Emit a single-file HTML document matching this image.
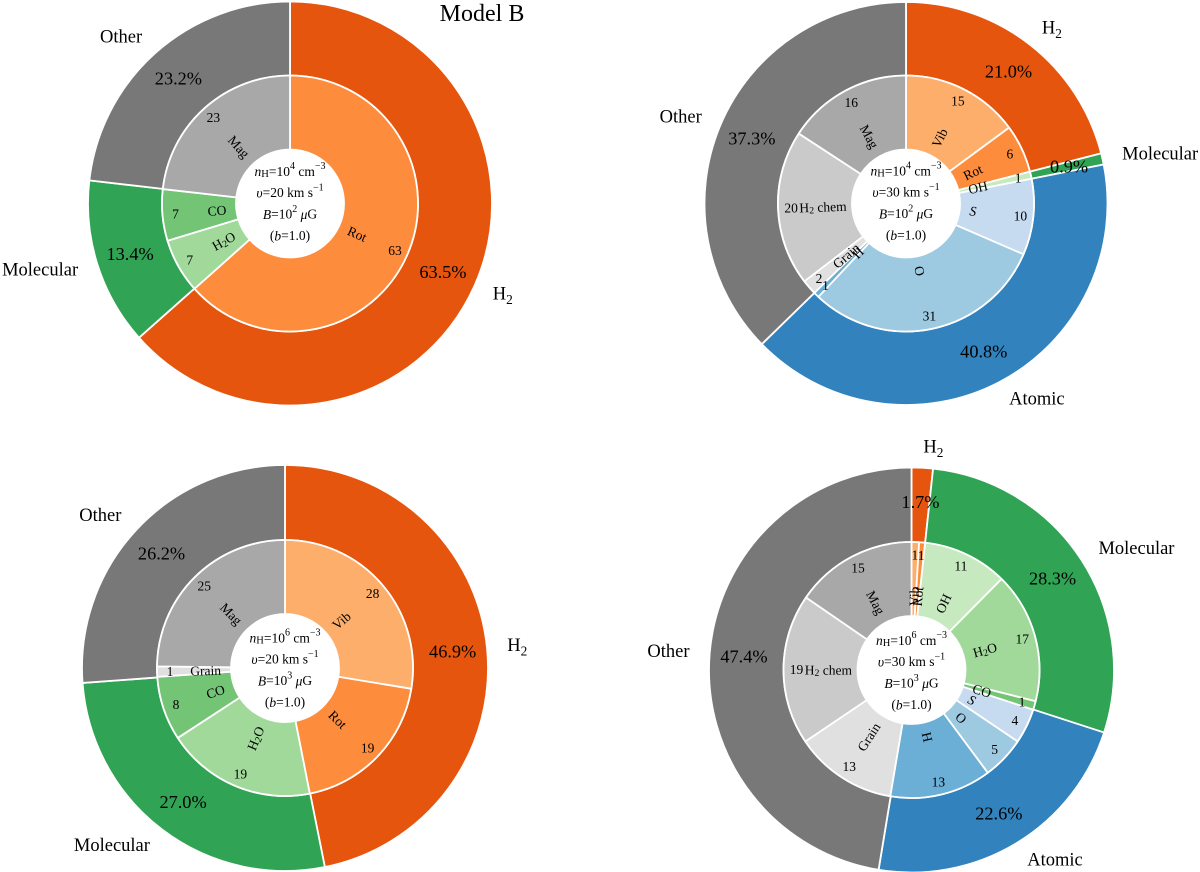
<!DOCTYPE html>
<html>
<head>
<meta charset="utf-8">
<title>Model B cooling breakdown</title>
<style>
  html, body { margin: 0; padding: 0; background: #fff; }
  svg { display: block; font-family: "Liberation Serif", "DejaVu Serif", serif; fill: #000; filter: blur(0.35px); }
  .center-line { font-size: 13.5px; text-anchor: middle; dominant-baseline: central; }
  .it { font-style: italic; }
</style>
</head>
<body>
<svg id="figure" width="1200" height="872" viewBox="0 0 1200 872" xmlns="http://www.w3.org/2000/svg">
  <rect width="1200" height="872" fill="#fff"/>
  <g id="donut-a"></g>
  <g id="donut-b"></g>
  <g id="donut-c"></g>
  <g id="donut-d"></g>

  <text x="482" y="14" font-size="24" text-anchor="middle" dominant-baseline="central">Model B</text>

  <g>
    <text class="center-line" x="290" y="171"><tspan class="it">n</tspan><tspan font-size="10.5" dy="3">H</tspan><tspan dy="-3">=10</tspan><tspan font-size="10" dy="-5">4</tspan><tspan dy="5"> cm</tspan><tspan font-size="10" dy="-5">−3</tspan></text>
    <text class="center-line" x="290" y="192.7"><tspan class="it">υ</tspan>=20 km s<tspan font-size="10" dy="-5">−1</tspan></text>
    <text class="center-line" x="290" y="214"><tspan class="it">B</tspan>=10<tspan font-size="10" dy="-5">2</tspan><tspan dy="5"> </tspan><tspan class="it">μ</tspan>G</text>
    <text class="center-line" x="290" y="235.7">(<tspan class="it">b</tspan>=1.0)</text>
  </g>
  <g>
    <text class="center-line" x="906" y="170.3"><tspan class="it">n</tspan><tspan font-size="10.5" dy="3">H</tspan><tspan dy="-3">=10</tspan><tspan font-size="10" dy="-5">4</tspan><tspan dy="5"> cm</tspan><tspan font-size="10" dy="-5">−3</tspan></text>
    <text class="center-line" x="906" y="192"><tspan class="it">υ</tspan>=30 km s<tspan font-size="10" dy="-5">−1</tspan></text>
    <text class="center-line" x="906" y="213.3"><tspan class="it">B</tspan>=10<tspan font-size="10" dy="-5">2</tspan><tspan dy="5"> </tspan><tspan class="it">μ</tspan>G</text>
    <text class="center-line" x="906" y="235">(<tspan class="it">b</tspan>=1.0)</text>
  </g>
  <g>
    <text class="center-line" x="285" y="637.5"><tspan class="it">n</tspan><tspan font-size="10.5" dy="3">H</tspan><tspan dy="-3">=10</tspan><tspan font-size="10" dy="-5">6</tspan><tspan dy="5"> cm</tspan><tspan font-size="10" dy="-5">−3</tspan></text>
    <text class="center-line" x="285" y="659.2"><tspan class="it">υ</tspan>=20 km s<tspan font-size="10" dy="-5">−1</tspan></text>
    <text class="center-line" x="285" y="680.5"><tspan class="it">B</tspan>=10<tspan font-size="10" dy="-5">3</tspan><tspan dy="5"> </tspan><tspan class="it">μ</tspan>G</text>
    <text class="center-line" x="285" y="702.2">(<tspan class="it">b</tspan>=1.0)</text>
  </g>
  <g>
    <text class="center-line" x="911.5" y="640"><tspan class="it">n</tspan><tspan font-size="10.5" dy="3">H</tspan><tspan dy="-3">=10</tspan><tspan font-size="10" dy="-5">6</tspan><tspan dy="5"> cm</tspan><tspan font-size="10" dy="-5">−3</tspan></text>
    <text class="center-line" x="911.5" y="661.7"><tspan class="it">υ</tspan>=30 km s<tspan font-size="10" dy="-5">−1</tspan></text>
    <text class="center-line" x="911.5" y="683"><tspan class="it">B</tspan>=10<tspan font-size="10" dy="-5">3</tspan><tspan dy="5"> </tspan><tspan class="it">μ</tspan>G</text>
    <text class="center-line" x="911.5" y="704.7">(<tspan class="it">b</tspan>=1.0)</text>
  </g>
</svg>

<script>
// Top-left panel
const outerLabelsA = ['H_2', 'Molecular', 'Other'];
const outerValuesA = [63.5, 13.4, 23.2];
const innerLabelsA = ['Rot', 'H_2O', 'CO', 'Mag'];
const innerValuesA = [63.4, 6.9, 6.5, 23.2];

// Top-right panel
const outerLabelsB = ['H_2', 'Molecular', 'Atomic', 'Other'];
const outerValuesB = [21.0, 0.9, 40.8, 37.3];
const innerLabelsB = ['Vib', 'Rot', 'OH', 'S', 'O', 'H', 'Grain', 'H_2 chem', 'Mag'];
const innerValuesB = [14.9, 6.1, 0.9, 9.6, 30.5, 0.7, 1.9, 19.6, 15.8];

// Bottom-left panel
const outerLabelsC = ['H_2', 'Molecular', 'Other'];
const outerValuesC = [46.9, 27.0, 26.2];
const innerLabelsC = ['Vib', 'Rot', 'H_2O', 'CO', 'Grain', 'Mag'];
const innerValuesC = [27.6, 19.3, 18.9, 8.1, 1.3, 24.8];

// Bottom-right panel
const outerLabelsD = ['H_2', 'Molecular', 'Atomic', 'Other'];
const outerValuesD = [1.7, 28.3, 22.6, 47.4];
const innerLabelsD = ['Vib', 'Rot', 'OH', 'H_2O', 'CO', 'S', 'O', 'H', 'Grain', 'H_2 chem', 'Mag'];
const innerValuesD = [0.95, 0.75, 10.7, 16.5, 1.1, 4.4, 5.4, 12.8, 12.9, 19.0, 15.4];

const colorOf = {
  'H_2': '#e6550d', 'Molecular': '#31a354', 'Atomic': '#3182bd', 'Other': '#787878',
  'Vib': '#fdae6b', 'Rot': '#fd8d3c',
  'OH': '#c7e9c0', 'H_2O': '#a1d99b', 'CO': '#74c476',
  'S': '#c6dbef', 'O': '#9ecae1', 'H': '#6baed6',
  'Grain': '#e0e0e0', 'H_2 chem': '#cacaca', 'Mag': '#a8a8a8'
};

const SVG_NS = 'http://www.w3.org/2000/svg';

function slug(label) {
  return label.replace(/_/g, '').replace(/\s+/g, '-').toLowerCase();
}

function polar(cx, cy, r, deg) {
  const a = deg * Math.PI / 180;
  return [cx + r * Math.sin(a), cy - r * Math.cos(a)];
}

function ringPath(cx, cy, r0, r1, a0, a1) {
  const p0 = polar(cx, cy, r1, a0), p1 = polar(cx, cy, r1, a1);
  const p2 = polar(cx, cy, r0, a1), p3 = polar(cx, cy, r0, a0);
  const large = (a1 - a0) > 180 ? 1 : 0;
  return 'M' + p0[0] + ' ' + p0[1] +
    'A' + r1 + ' ' + r1 + ' 0 ' + large + ' 1 ' + p1[0] + ' ' + p1[1] +
    'L' + p2[0] + ' ' + p2[1] +
    'A' + r0 + ' ' + r0 + ' 0 ' + large + ' 0 ' + p3[0] + ' ' + p3[1] + 'Z';
}

// Writes a label as real text, turning "_2" into a subscript tspan.
function writeLabel(textEl, label, size) {
  const parts = label.split(/_(\d)/);
  let shifted = 0;
  parts.forEach(function (part, i) {
    if (!part) return;
    const span = document.createElementNS(SVG_NS, 'tspan');
    span.textContent = part;
    if (i % 2 === 1) {
      span.setAttribute('font-size', size * 0.72);
      span.setAttribute('dy', size * 0.25);
      shifted = size * 0.25;
    } else if (shifted) {
      span.setAttribute('dy', -shifted);
      shifted = 0;
    }
    if (part === 'S' && label === 'S') span.setAttribute('font-style', 'italic');
    textEl.appendChild(span);
  });
}

function sum(values) {
  return values.reduce(function (a, b) { return a + b; }, 0);
}

function drawRing(group, cx, cy, r0, r1, labels, values, ringName) {
  const total = sum(values);
  let start = 0;
  values.forEach(function (value, i) {
    const a0 = start / total * 360;
    start += value;
    const a1 = start / total * 360;
    const wedge = document.createElementNS(SVG_NS, 'path');
    wedge.setAttribute('d', ringPath(cx, cy, r0, r1, a0, a1));
    wedge.setAttribute('fill', colorOf[labels[i]]);
    wedge.setAttribute('stroke', '#fff');
    wedge.setAttribute('stroke-width', '1.8');
    wedge.setAttribute('stroke-linejoin', 'round');
    
    
    group.appendChild(wedge);
  });
}

function addOuterText(group, cx, cy, R, labels, values) {
  const total = sum(values);
  let start = 0;
  values.forEach(function (value, i) {
    const mid = (start + value / 2) / total * 360;
    start += value;

    const pctPos = polar(cx, cy, R * 0.83, mid);
    const pct = document.createElementNS(SVG_NS, 'text');
    pct.setAttribute('x', pctPos[0]);
    pct.setAttribute('y', pctPos[1]);
    pct.setAttribute('font-size', '18.3');
    pct.setAttribute('text-anchor', 'middle');
    pct.setAttribute('dominant-baseline', 'central');
    pct.textContent = value.toFixed(1) + '%';
    
    
    group.appendChild(pct);

    const namePos = polar(cx, cy, R * 1.1, mid);
    const name = document.createElementNS(SVG_NS, 'text');
    name.setAttribute('x', namePos[0]);
    name.setAttribute('y', namePos[1]);
    name.setAttribute('font-size', '18.5');
    name.setAttribute('text-anchor', mid < 180 ? 'start' : 'end');
    name.setAttribute('dominant-baseline', 'central');
    writeLabel(name, labels[i], 18.5);
    
    
    group.appendChild(name);
  });
}

function addInnerText(group, cx, cy, labelR, numberR, labels, values) {
  const total = sum(values);
  let start = 0;
  values.forEach(function (value, i) {
    const mid = (start + value / 2) / total * 360;
    start += value;

    const numPos = polar(cx, cy, numberR, mid);
    const num = document.createElementNS(SVG_NS, 'text');
    num.setAttribute('x', numPos[0]);
    num.setAttribute('y', numPos[1]);
    num.setAttribute('font-size', '13.5');
    num.setAttribute('text-anchor', 'middle');
    num.setAttribute('dominant-baseline', 'central');
    num.textContent = String(Math.round(value));
    
    
    group.appendChild(num);

    // The long "H2 chem" label starts closer to the hole than the short ones.
    const r = labels[i] === 'H_2 chem' ? labelR - 4.5 : labelR;
    const labelPos = polar(cx, cy, r, mid);
    const rightSide = mid < 180;
    const rotation = rightSide ? mid - 90 : mid - 270;
    const text = document.createElementNS(SVG_NS, 'text');
    text.setAttribute('transform', 'translate(' + labelPos[0] + ' ' + labelPos[1] + ') rotate(' + rotation + ')');
    text.setAttribute('font-size', '13.5');
    text.setAttribute('text-anchor', rightSide ? 'start' : 'end');
    text.setAttribute('dominant-baseline', 'central');
    writeLabel(text, labels[i], 13.5);
    
    
    group.appendChild(text);
  });
}

function drawDonut(id, cx, cy, R, outerLabels, outerValues, innerLabels, innerValues) {
  const group = document.getElementById(id);
  const innerEdge = 128, hole = 54;
  drawRing(group, cx, cy, innerEdge, R, outerLabels, outerValues, 'outer');
  drawRing(group, cx, cy, hole, innerEdge, innerLabels, innerValues, 'inner');
  addOuterText(group, cx, cy, R, outerLabels, outerValues);
  addInnerText(group, cx, cy, 64, 115, innerLabels, innerValues);
}

drawDonut('donut-a', 290, 203.5, 202, outerLabelsA, outerValuesA, innerLabelsA, innerValuesA);
drawDonut('donut-b', 906, 203.5, 201.5, outerLabelsB, outerValuesB, innerLabelsB, innerValuesB);
drawDonut('donut-c', 285, 668, 203, outerLabelsC, outerValuesC, innerLabelsC, innerValuesC);
drawDonut('donut-d', 911.5, 670, 202.5, outerLabelsD, outerValuesD, innerLabelsD, innerValuesD);
</script>
</body>
</html>
